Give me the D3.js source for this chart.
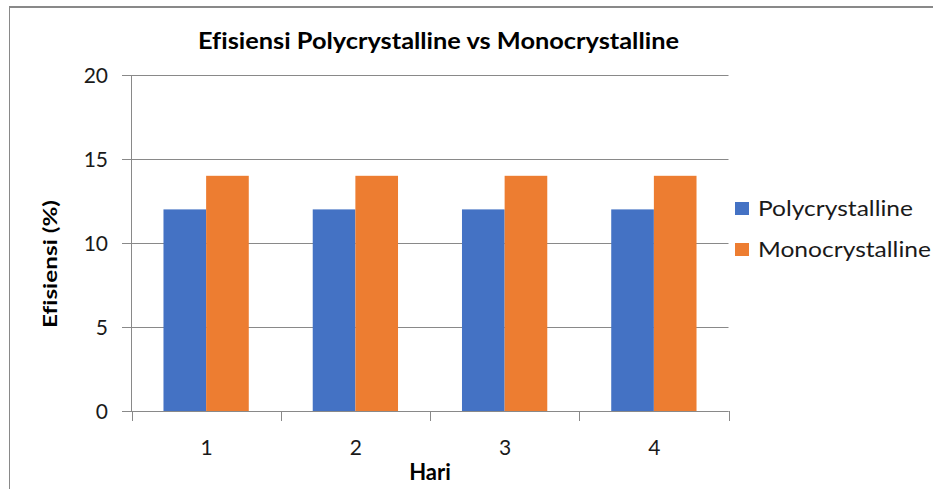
<!DOCTYPE html>
<html>
<head>
<meta charset="utf-8">
<script src="https://cdn.jsdelivr.net/npm/d3@7"></script>
<style>
  html, body { margin: 0; padding: 0; background: #fff; }
  svg { display: block; }
  svg text { font-variant-ligatures: none; font-feature-settings: "liga" 0, "clig" 0; }
</style>
</head>
<body>
<svg id="chart" width="933" height="489"></svg>
<script>
const categories = ["1", "2", "3", "4"];
const seriesNames = ["Polycrystalline", "Monocrystalline"];
const polyValues = [12, 12, 12, 12];
const monoValues = [14, 14, 14, 14];
const yTicks = [0, 5, 10, 15, 20];
const seriesColors = ["#4472C4", "#ED7D31"];
const titleText = "Efisiensi Polycrystalline vs Monocrystalline";
const xTitle = "Hari";
const yTitle = "Efisiensi (%)";

const svg = d3.select("#chart");
const FONT = "Lato, 'Open Sans', sans-serif";
const gray = "#898989";

// outer chart border
svg.append("line").attr("x1", 9).attr("x2", 933).attr("y1", 7).attr("y2", 7)
  .attr("stroke", gray).attr("stroke-width", 2);
svg.append("line").attr("x1", 9.5).attr("x2", 9.5).attr("y1", 6).attr("y2", 489)
  .attr("stroke", gray).attr("stroke-width", 1);

const x = d3.scaleBand().domain(categories).range([131.5, 728.5]).padding(0);
const y = d3.scaleLinear().domain([0, 20]).range([411, 75]);

const bw = x.bandwidth();
const barW = bw / 3.5;
const groupOffset = bw * 0.75 / 3.5;
const xs = d3.scaleBand().domain(seriesNames).range([groupOffset, groupOffset + 2 * barW]).padding(0);

// gridlines
svg.append("g").selectAll("line").data(yTicks).join("line")
  .attr("x1", 122).attr("x2", 728.5)
  .attr("y1", d => Math.round(y(d)) + 0.5).attr("y2", d => Math.round(y(d)) + 0.5)
  .attr("stroke", gray).attr("stroke-width", 1);

// bars
const data = categories.map((c, i) => ({ c, vals: [polyValues[i], monoValues[i]] }));
const groups = svg.append("g").selectAll("g").data(data).join("g")
  .attr("transform", d => `translate(${x(d.c)},0)`);
groups.selectAll("rect").data(d => d.vals.map((v, j) => ({ v, s: seriesNames[j], j })))
  .join("rect")
  .attr("x", d => xs(d.s))
  .attr("width", xs.bandwidth())
  .attr("y", d => y(d.v))
  .attr("height", d => y(0) - y(d.v))
  .attr("fill", d => seriesColors[d.j]);

// y axis line
svg.append("line").attr("x1", 131.5).attr("x2", 131.5).attr("y1", y(20)).attr("y2", 411.5)
  .attr("stroke", gray).attr("stroke-width", 1);
// x axis line
svg.append("line").attr("x1", 122).attr("x2", 728.5).attr("y1", 411.5).attr("y2", 411.5)
  .attr("stroke", gray).attr("stroke-width", 1);
// x category ticks
const bounds = categories.map(c => x(c)).concat([x(categories[categories.length - 1]) + bw]);
svg.append("g").selectAll("line").data(bounds).join("line")
  .attr("x1", d => Math.round(d) + 0.5).attr("x2", d => Math.round(d) + 0.5)
  .attr("y1", 411).attr("y2", 421)
  .attr("stroke", gray).attr("stroke-width", 1);

// y tick labels
svg.append("g").selectAll("text").data(yTicks).join("text")
  .attr("x", 108).attr("y", d => y(d) + 7.5)
  .attr("text-anchor", "end")
  .attr("font-family", FONT).attr("font-size", 21).attr("fill", "#1a1a1a")
  .text(d => d);

// x tick labels
svg.append("g").selectAll("text").data(categories).join("text")
  .attr("x", d => x(d) + bw / 2 + 0.5).attr("y", 455)
  .attr("text-anchor", "middle")
  .attr("font-family", FONT).attr("font-size", 21).attr("fill", "#1a1a1a")
  .text(d => d);

// title
svg.append("text").attr("x", 438.5).attr("y", 49)
  .attr("text-anchor", "middle")
  .attr("font-family", FONT).attr("font-weight", "bold").attr("font-size", 23)
  .attr("textLength", 481).attr("lengthAdjust", "spacingAndGlyphs")
  .attr("fill", "#000").text(titleText);

// axis titles
svg.append("text").attr("x", 430).attr("y", 480)
  .attr("text-anchor", "middle")
  .attr("font-family", FONT).attr("font-weight", "bold").attr("font-size", 22)
  .attr("fill", "#000").text(xTitle);

svg.append("text")
  .attr("transform", "translate(57,264) rotate(-90)")
  .attr("text-anchor", "middle")
  .attr("font-family", FONT).attr("font-weight", "bold").attr("font-size", 19)
  .attr("textLength", 128).attr("lengthAdjust", "spacingAndGlyphs")
  .attr("fill", "#000").text(yTitle);

// legend
const legendBaselines = [216, 257];
const legendLengths = [155, 173];
const lg = svg.append("g").selectAll("g").data(seriesNames).join("g");
lg.append("rect")
  .attr("x", 735).attr("y", (d, i) => legendBaselines[i] - 14)
  .attr("width", 14).attr("height", 13)
  .attr("fill", (d, i) => seriesColors[i]);
lg.append("text")
  .attr("x", 758).attr("y", (d, i) => legendBaselines[i])
  .attr("font-family", FONT).attr("font-size", 21).attr("fill", "#1a1a1a")
  .attr("textLength", (d, i) => legendLengths[i]).attr("lengthAdjust", "spacingAndGlyphs")
  .text(d => d);
</script>
</body>
</html>
